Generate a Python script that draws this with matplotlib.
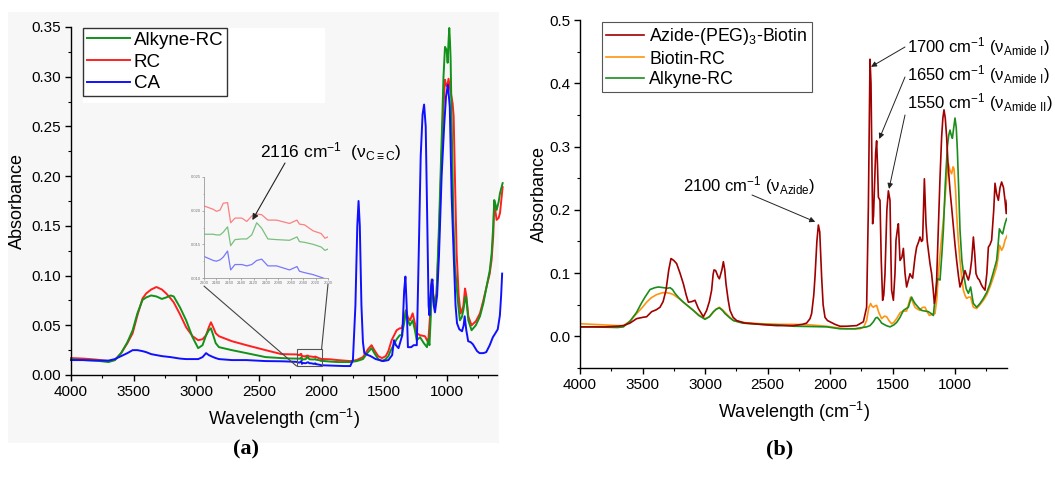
import numpy as np
import matplotlib
matplotlib.use("Agg")
import matplotlib.pyplot as plt
from matplotlib.patches import Rectangle, ConnectionPatch
from matplotlib.ticker import MultipleLocator, FormatStrFormatter

plt.rcParams['font.family'] = ['Liberation Sans', 'DejaVu Sans']
plt.rcParams['mathtext.fontset'] = 'custom'
plt.rcParams['mathtext.rm'] = 'Liberation Sans'
plt.rcParams['mathtext.it'] = 'Liberation Sans:italic'
plt.rcParams['mathtext.bf'] = 'Liberation Sans:bold'

# ---------------- Panel (a) data ----------------
# high wavenumber part (4000 -> 2250)
a_hi_x = [4000, 3900, 3800, 3700, 3650, 3600, 3550, 3508, 3470, 3429, 3400, 3360, 3318, 3275, 3240, 3205,
          3180, 3130, 3081, 3030, 2985, 2950, 2922, 2900, 2883, 2865, 2845, 2819, 2716, 2600, 2447, 2320, 2250]
rc_hi = [0.017, 0.0165, 0.0155, 0.014, 0.015, 0.022, 0.032, 0.042, 0.060, 0.077, 0.082, 0.086, 0.0885, 0.086,
         0.082, 0.077, 0.073, 0.061, 0.048, 0.039, 0.035, 0.036, 0.040, 0.048, 0.053, 0.048, 0.042, 0.039,
         0.034, 0.030, 0.025, 0.021, 0.0208]
alk_hi = [0.016, 0.015, 0.0145, 0.013, 0.015, 0.022, 0.033, 0.045, 0.062, 0.0755, 0.078, 0.080, 0.079, 0.0765,
          0.078, 0.080, 0.079, 0.068, 0.055, 0.038, 0.027, 0.030, 0.040, 0.045, 0.047, 0.040, 0.032, 0.028,
          0.025, 0.022, 0.018, 0.017, 0.0166]
ca_hi = [0.015, 0.015, 0.0145, 0.0145, 0.016, 0.019, 0.022, 0.025, 0.025, 0.024, 0.023, 0.021, 0.020, 0.019,
         0.0185, 0.018, 0.0175, 0.0165, 0.016, 0.016, 0.016, 0.018, 0.022, 0.020, 0.019, 0.018, 0.017, 0.016,
         0.015, 0.015, 0.014, 0.0138, 0.0135]

# zoomed region (2200 -> 2000), also shown in the inset
ins_x = [2200, 2185, 2180, 2174, 2169, 2162, 2157, 2150, 2139, 2131, 2123, 2115, 2107, 2097, 2083, 2062,
         2050, 2046, 2038, 2024, 2011, 2005, 2000]
rc_ins = [0.0207, 0.0202, 0.0199, 0.0201, 0.0211, 0.0212, 0.0182, 0.0189, 0.0189, 0.0184, 0.0192, 0.0195,
          0.0194, 0.0186, 0.0186, 0.0181, 0.0186, 0.0180, 0.0179, 0.0170, 0.0166, 0.0159, 0.0161]
alk_ins = [0.0165, 0.0165, 0.0164, 0.0164, 0.0168, 0.0176, 0.0148, 0.0157, 0.0158, 0.0158, 0.0164, 0.0182,
           0.0174, 0.0158, 0.0157, 0.0156, 0.0161, 0.0154, 0.0153, 0.0150, 0.0146, 0.0141, 0.0143]
ca_ins = [0.0132, 0.0126, 0.0125, 0.0127, 0.0131, 0.0140, 0.0112, 0.0120, 0.0120, 0.0118, 0.0120, 0.0126,
          0.0128, 0.0118, 0.0118, 0.0112, 0.0117, 0.0110, 0.0108, 0.0105, 0.0101, 0.0099, 0.0098]

# low wavenumber part (< 2000)
rc_lo_x = [1932, 1872, 1771, 1720, 1670, 1629, 1601, 1579, 1548, 1518, 1488, 1467, 1441, 1401, 1376, 1361,
           1341, 1327, 1311, 1294, 1273, 1255, 1241, 1214, 1175, 1159, 1149, 1134, 1121, 1103, 1082, 1063,
           1041, 1027, 1015, 1007, 997, 987, 977, 970, 954, 946, 936, 922, 906, 890, 869, 855, 845, 829,
           803, 769, 736, 709, 683, 658, 643, 630, 622, 613, 603, 587, 576, 555]
rc_lo = [0.0158, 0.015, 0.014, 0.015, 0.018, 0.026, 0.030, 0.025, 0.019, 0.017, 0.019, 0.024, 0.035, 0.045,
         0.047, 0.047, 0.055, 0.065, 0.058, 0.055, 0.062, 0.052, 0.042, 0.040, 0.039, 0.035, 0.033, 0.060,
         0.096, 0.072, 0.082, 0.140, 0.223, 0.270, 0.297, 0.292, 0.290, 0.298, 0.290, 0.285, 0.273, 0.260,
         0.200, 0.122, 0.080, 0.062, 0.069, 0.087, 0.080, 0.059, 0.050, 0.054, 0.062, 0.075, 0.089, 0.102,
         0.116, 0.140, 0.173, 0.165, 0.156, 0.158, 0.163, 0.189]
alk_lo_x = [1932, 1872, 1771, 1720, 1670, 1629, 1601, 1579, 1548, 1518, 1488, 1467, 1447, 1401, 1376, 1361,
            1341, 1327, 1311, 1295, 1273, 1255, 1241, 1214, 1184, 1159, 1149, 1139, 1128, 1121, 1103, 1083,
            1063, 1041, 1027, 1015, 1002, 994, 987, 981, 975, 970, 960, 948, 936, 922, 909, 896, 881,
            869, 855, 847, 838, 829, 803, 769, 736, 709, 683, 658, 643, 630, 622, 613, 603, 587, 576, 555]
alk_lo = [0.0135, 0.013, 0.013, 0.014, 0.016, 0.023, 0.027, 0.022, 0.016, 0.014, 0.016, 0.019, 0.025, 0.036,
          0.040, 0.040, 0.052, 0.065, 0.055, 0.050, 0.055, 0.045, 0.035, 0.038, 0.032, 0.028, 0.036, 0.030,
          0.060, 0.096, 0.070, 0.080, 0.150, 0.240, 0.300, 0.330, 0.327, 0.314, 0.335, 0.349, 0.335, 0.317,
          0.240, 0.156, 0.110, 0.089, 0.070, 0.055, 0.058, 0.065, 0.076, 0.079, 0.068, 0.055, 0.045, 0.050,
          0.059, 0.072, 0.089, 0.105, 0.122, 0.150, 0.176, 0.172, 0.166, 0.174, 0.183, 0.193]
ca_lo_x = [1932, 1821, 1771, 1750, 1730, 1715, 1705, 1695, 1682, 1670, 1659, 1629, 1609, 1568, 1508, 1467,
           1437, 1422, 1407, 1386, 1356, 1341, 1331, 1321, 1311, 1285, 1265, 1240, 1225, 1209, 1194, 1182,
           1169, 1156, 1146, 1139, 1125, 1115, 1105, 1095, 1078, 1063, 1042, 1022, 1007, 992, 977, 962,
           946, 931, 919, 901, 879, 866, 858, 845, 830, 810, 793, 759, 739, 709, 686, 658, 633, 613, 594,
           577, 567, 559]
ca_lo = [0.0095, 0.009, 0.009, 0.015, 0.070, 0.150, 0.175, 0.150, 0.070, 0.033, 0.022, 0.020, 0.019, 0.016,
         0.014, 0.015, 0.020, 0.035, 0.030, 0.027, 0.040, 0.085, 0.099, 0.070, 0.028, 0.028, 0.030, 0.030,
         0.120, 0.220, 0.262, 0.272, 0.250, 0.150, 0.070, 0.060, 0.090, 0.096, 0.070, 0.063, 0.080, 0.120,
         0.200, 0.250, 0.280, 0.292, 0.270, 0.180, 0.122, 0.070, 0.052, 0.046, 0.044, 0.050, 0.059, 0.045,
         0.034, 0.033, 0.031, 0.024, 0.022, 0.022, 0.023, 0.030, 0.038, 0.042, 0.046, 0.060, 0.080, 0.102]

# ---------------- Panel (b) data ----------------
az_x = [4000, 3900, 3800, 3700, 3653, 3600, 3547, 3500, 3467, 3427, 3390, 3360, 3335, 3312, 3290, 3272, 3250,
        3227, 3200, 3173, 3150, 3133, 3105, 3080, 3053, 3013, 2987, 2965, 2947, 2935, 2928, 2915, 2907, 2895,
        2885, 2865, 2853, 2842, 2832, 2815, 2800, 2775, 2747, 2680, 2613, 2500, 2427, 2293, 2220, 2187, 2160,
        2147, 2130, 2120, 2105, 2093, 2082, 2067, 2055, 2040, 2020, 2000, 1960, 1920, 1867, 1787, 1733, 1707,
        1693, 1680, 1672, 1667, 1659, 1652, 1645, 1635, 1627, 1620, 1613, 1600, 1590, 1579, 1570, 1560, 1545,
        1533, 1520, 1512, 1507, 1493, 1480, 1472, 1460, 1453, 1440, 1425, 1413, 1400, 1387, 1372, 1360, 1350,
        1339, 1320, 1307, 1290, 1280, 1268, 1259, 1245, 1232, 1222, 1213, 1200, 1187, 1175, 1165, 1155, 1147,
        1133, 1120, 1107, 1097, 1088, 1078, 1067, 1055, 1040, 1025, 1013, 1000, 987, 972, 960, 940, 920, 905,
        893, 880, 867, 853, 842, 832, 818, 805, 790, 779, 760, 745, 733, 720, 707, 690, 680, 667, 653, 640,
        627, 612, 600, 590, 582]
az_y = [0.015, 0.015, 0.015, 0.016, 0.017, 0.021, 0.028, 0.030, 0.031, 0.039, 0.042, 0.046, 0.055, 0.073,
        0.105, 0.123, 0.120, 0.115, 0.100, 0.083, 0.065, 0.054, 0.055, 0.057, 0.044, 0.031, 0.041, 0.055,
        0.073, 0.098, 0.105, 0.104, 0.100, 0.094, 0.091, 0.105, 0.118, 0.105, 0.083, 0.058, 0.041, 0.030,
        0.025, 0.021, 0.020, 0.018, 0.017, 0.017, 0.019, 0.021, 0.028, 0.036, 0.065, 0.094, 0.150, 0.176,
        0.165, 0.094, 0.050, 0.030, 0.025, 0.023, 0.019, 0.016, 0.016, 0.017, 0.023, 0.046, 0.205, 0.438,
        0.400, 0.320, 0.178, 0.190, 0.230, 0.290, 0.309, 0.270, 0.220, 0.215, 0.120, 0.057, 0.065, 0.099,
        0.200, 0.230, 0.215, 0.120, 0.073, 0.057, 0.100, 0.152, 0.170, 0.178, 0.120, 0.125, 0.139, 0.100,
        0.078, 0.090, 0.099, 0.095, 0.092, 0.125, 0.141, 0.150, 0.157, 0.150, 0.152, 0.249, 0.178, 0.150,
        0.136, 0.115, 0.099, 0.075, 0.052, 0.065, 0.089, 0.173, 0.250, 0.315, 0.345, 0.358, 0.345, 0.315,
        0.270, 0.231, 0.200, 0.173, 0.145, 0.120, 0.095, 0.078, 0.090, 0.104, 0.095, 0.089, 0.100, 0.120,
        0.157, 0.130, 0.099, 0.092, 0.089, 0.082, 0.078, 0.073, 0.100, 0.141, 0.145, 0.152, 0.200, 0.242,
        0.225, 0.215, 0.235, 0.244, 0.235, 0.215, 0.194, 0.215]

bio_x = [4000, 3900, 3800, 3700, 3653, 3600, 3547, 3500, 3467, 3430, 3387, 3340, 3307, 3280, 3253, 3210, 3173,
         3130, 3093, 3050, 3000, 2965, 2933, 2910, 2885, 2860, 2840, 2800, 2773, 2700, 2560, 2400, 2293, 2150,
         2027, 1920, 1867, 1760, 1730, 1707, 1690, 1675, 1665, 1653, 1640, 1627, 1610, 1587, 1565, 1547, 1525,
         1507, 1490, 1467, 1440, 1427, 1400, 1387, 1370, 1355, 1340, 1320, 1300, 1280, 1265, 1255, 1240, 1220,
         1205, 1180, 1160, 1145, 1133, 1115, 1093, 1075, 1060, 1053, 1040, 1027, 1015, 1008, 995, 987, 975,
         960, 945, 933, 920, 907, 890, 875, 862, 853, 827, 800, 773, 745, 720, 695, 667, 655, 645, 635, 627,
         612, 600, 581]
bio_y = [0.020, 0.019, 0.018, 0.017, 0.017, 0.024, 0.036, 0.046, 0.054, 0.061, 0.066, 0.069, 0.069, 0.068,
         0.066, 0.060, 0.054, 0.047, 0.041, 0.034, 0.028, 0.031, 0.038, 0.043, 0.046, 0.042, 0.038, 0.030,
         0.025, 0.022, 0.020, 0.019, 0.019, 0.018, 0.016, 0.013, 0.012, 0.012, 0.015, 0.025, 0.045, 0.052,
         0.048, 0.046, 0.048, 0.049, 0.038, 0.028, 0.032, 0.031, 0.024, 0.020, 0.022, 0.028, 0.037, 0.039,
         0.040, 0.040, 0.052, 0.062, 0.055, 0.046, 0.043, 0.041, 0.045, 0.046, 0.046, 0.038, 0.033, 0.035,
         0.036, 0.060, 0.099, 0.140, 0.184, 0.230, 0.265, 0.273, 0.262, 0.257, 0.268, 0.265, 0.230, 0.194,
         0.155, 0.120, 0.090, 0.073, 0.065, 0.060, 0.062, 0.062, 0.052, 0.046, 0.044, 0.050, 0.057, 0.066,
         0.078, 0.092, 0.110, 0.125, 0.144, 0.140, 0.136, 0.142, 0.152, 0.160]

alkb_x = [4000, 3900, 3800, 3700, 3653, 3600, 3547, 3510, 3480, 3440, 3400, 3373, 3333, 3300, 3280, 3260, 3240,
          3210, 3173, 3130, 3093, 3050, 3000, 2965, 2933, 2910, 2885, 2860, 2840, 2800, 2773, 2700, 2560, 2400,
          2293, 2150, 2027, 1920, 1800, 1707, 1680, 1653, 1635, 1621, 1600, 1587, 1550, 1520, 1490, 1467, 1440,
          1413, 1390, 1373, 1360, 1347, 1335, 1320, 1290, 1267, 1240, 1213, 1190, 1173, 1160, 1141, 1130, 1120,
          1105, 1093, 1078, 1061, 1050, 1040, 1030, 1021, 1010, 1000, 990, 981, 970, 960, 945, 928, 910, 893,
          875, 862, 853, 827, 800, 773, 745, 720, 695, 667, 655, 645, 632, 619, 600, 587]
alkb_y = [0.015, 0.015, 0.0145, 0.014, 0.015, 0.024, 0.038, 0.052, 0.062, 0.074, 0.077, 0.078, 0.077, 0.076,
          0.077, 0.074, 0.068, 0.061, 0.054, 0.047, 0.041, 0.033, 0.027, 0.031, 0.039, 0.043, 0.045, 0.041,
          0.036, 0.029, 0.025, 0.021, 0.019, 0.018, 0.016, 0.0155, 0.015, 0.012, 0.012, 0.015, 0.017, 0.023,
          0.029, 0.030, 0.025, 0.021, 0.017, 0.015, 0.018, 0.022, 0.030, 0.041, 0.044, 0.046, 0.055, 0.062,
          0.057, 0.052, 0.045, 0.041, 0.040, 0.039, 0.036, 0.033, 0.060, 0.091, 0.090, 0.089, 0.130, 0.168,
          0.240, 0.300, 0.318, 0.326, 0.318, 0.313, 0.330, 0.345, 0.330, 0.294, 0.230, 0.168, 0.120, 0.094,
          0.075, 0.068, 0.078, 0.062, 0.052, 0.046, 0.052, 0.060, 0.070, 0.083, 0.100, 0.120, 0.145, 0.170,
          0.165, 0.162, 0.178, 0.186]

labels_a = ['Alkyne-RC', 'RC', 'CA']
labels_b = ['Azide-(PEG)$_3$-Biotin', 'Biotin-RC', 'Alkyne-RC']

# ---------------- figure ----------------
W, H = 1055, 488
fig = plt.figure(figsize=(W / 100, H / 100), dpi=100)


def fx(px):
    return px / W


def fy(py):
    return 1 - py / H


# light grey background of panel (a) and white area behind its legend
fig.patches.append(Rectangle((fx(8), fy(443)), fx(499) - fx(8), fy(12) - fy(443),
                             transform=fig.transFigure, facecolor='#f7f7f7', edgecolor='none', zorder=-10))
fig.patches.append(Rectangle((fx(83), fy(103)), fx(325) - fx(83), fy(28) - fy(103),
                             transform=fig.transFigure, facecolor='white', edgecolor='none', zorder=-9))

c_green_a, c_red_a, c_blue_a = '#12921a', '#ff2020', '#1010ff'
c_az, c_bio, c_alk = '#a00000', '#ff9410', '#1c8c1c'

tick_fs = 11
lab_fs = 13

# ---- panel (a)
axa = fig.add_axes([fx(71), fy(375), fx(497) - fx(71), fy(27) - fy(375)])
axa.set_facecolor('none')
rc_x = a_hi_x + ins_x + rc_lo_x
rc_y = rc_hi + rc_ins + rc_lo
alk_x = a_hi_x + ins_x + alk_lo_x
alk_y = alk_hi + alk_ins + alk_lo
ca_x = a_hi_x + ins_x + ca_lo_x
ca_y = ca_hi + ca_ins + ca_lo
l_rc, = axa.plot(rc_x, rc_y, color=c_red_a, lw=1.4, clip_on=False)
l_alk, = axa.plot(alk_x, alk_y, color=c_green_a, lw=1.4, clip_on=False)
l_ca, = axa.plot(ca_x, ca_y, color=c_blue_a, lw=1.4, clip_on=False)
axa.set_xlim(4000, 600)
axa.set_ylim(0, 0.35)
axa.xaxis.set_minor_locator(MultipleLocator(250))
axa.yaxis.set_major_locator(MultipleLocator(0.05))
axa.yaxis.set_minor_locator(MultipleLocator(0.025))
axa.yaxis.set_major_formatter(FormatStrFormatter('%.2f'))
axa.set_xticks([4000, 3500, 3000, 2500, 2000, 1500, 1000])
axa.set_xlabel('Wavelength (cm$^{-1}$)', fontsize=lab_fs, labelpad=6)
axa.set_ylabel('Absorbance', fontsize=lab_fs, labelpad=4)
leg_a = fig.legend([l_alk, l_rc, l_ca], labels_a, loc='upper left',
                   bbox_to_anchor=(fx(83), fy(28)), bbox_transform=fig.transFigure,
                   fontsize=13.5, frameon=True, fancybox=False, edgecolor='#333333', framealpha=1,
                   handlelength=2.3, handletextpad=0.2, labelspacing=0.25, borderpad=0.2, borderaxespad=0)
leg_a.get_frame().set_linewidth(1.0)

# zoom rectangle
axa.add_patch(Rectangle((2000, 0.009), 200, 0.017, fill=False, edgecolor='#555555', lw=0.8, zorder=5))

# inset
axi = fig.add_axes([fx(204), fy(278), fx(328) - fx(204), fy(177) - fy(278)])
axi.set_facecolor('none')
axi.plot(ins_x, rc_ins, color=c_red_a, lw=0.9, alpha=0.55)
axi.plot(ins_x, alk_ins, color=c_green_a, lw=0.9, alpha=0.55)
axi.plot(ins_x, ca_ins, color=c_blue_a, lw=0.9, alpha=0.55)
axi.set_xlim(2200, 2000)
axi.set_ylim(0.010, 0.025)
axi.set_xticks(np.arange(2200, 1999, -20))
axi.set_yticks([0.010, 0.015, 0.020, 0.025])
axi.yaxis.set_major_formatter(FormatStrFormatter('%.3f'))
axi.yaxis.set_minor_locator(MultipleLocator(0.0025))
axi.tick_params(labelsize=3, colors='#777777', length=1.5, width=0.4, pad=1)
axi.tick_params(which='minor', length=1, width=0.4, colors='#777777')
for s in ['top', 'right']:
    axi.spines[s].set_visible(False)
for s in ['left', 'bottom']:
    axi.spines[s].set_color('#999999')
    axi.spines[s].set_linewidth(0.6)

con1 = ConnectionPatch(xyA=(2200, 0.009), coordsA=axa.transData, xyB=(0.0, -0.08), coordsB=axi.transAxes,
                       color='#444444', lw=0.8)
con2 = ConnectionPatch(xyA=(2000, 0.026), coordsA=axa.transData, xyB=(1.0, -0.06), coordsB=axi.transAxes,
                       color='#444444', lw=0.8)
fig.add_artist(con1)
fig.add_artist(con2)

fig.text(fx(260), fy(152), '2116 cm$^{-1}$  (ν$_{\\mathrm{C}\\equiv\\mathrm{C}}$)', fontsize=12.5,
         ha='left', va='center')
axi.annotate('', xy=(2122, 0.0186), xycoords='data', xytext=(fx(285), fy(163)),
             textcoords='figure fraction', annotation_clip=False,
             arrowprops=dict(arrowstyle='-|>', color='#222222', lw=0.8, mutation_scale=9,
                             shrinkA=0, shrinkB=0))

# ---- panel (b)
axb = fig.add_axes([fx(580), fy(368), fx(1007) - fx(580), fy(20) - fy(368)])
axb.set_facecolor('none')
l_bio, = axb.plot(bio_x, bio_y, color=c_bio, lw=1.2)
l_alkb, = axb.plot(alkb_x, alkb_y, color=c_alk, lw=1.2)
l_az, = axb.plot(az_x, az_y, color=c_az, lw=1.2)
axb.set_xlim(4000, 584)
axb.set_ylim(-0.05, 0.5)
axb.set_xticks([4000, 3500, 3000, 2500, 2000, 1500, 1000])
axb.xaxis.set_minor_locator(MultipleLocator(250))
axb.set_yticks([0.0, 0.1, 0.2, 0.3, 0.4, 0.5])
axb.yaxis.set_minor_locator(MultipleLocator(0.05))
axb.yaxis.set_major_formatter(FormatStrFormatter('%.1f'))
axb.set_xlabel('Wavelength (cm$^{-1}$)', fontsize=lab_fs, labelpad=6)
axb.set_ylabel('Absorbance', fontsize=lab_fs, labelpad=1)
leg_b = fig.legend([l_az, l_bio, l_alkb], labels_b, loc='upper left',
                   bbox_to_anchor=(fx(602), fy(22)), bbox_transform=fig.transFigure,
                   fontsize=12.8, frameon=True, fancybox=False, edgecolor='#555555', framealpha=1,
                   handlelength=2.1, handletextpad=0.3, labelspacing=0.18, borderpad=0.25, borderaxespad=0)
leg_b.get_frame().set_linewidth(0.8)

arrow_kw = dict(arrowstyle='-|>', color='#222222', lw=0.7, mutation_scale=8, shrinkA=0, shrinkB=0)
fig.text(fx(683), fy(186), '2100 cm$^{-1}$ (ν$_{\\mathrm{Azide}}$)', fontsize=12, ha='left', va='center')
axb.annotate('', xy=(2118, 0.181), xytext=(fx(752), fy(195)), textcoords='figure fraction',
             arrowprops=arrow_kw, annotation_clip=False)
amide = [('1700', 'Amide\\ I', 47, (1672, 0.426), 47),
         ('1650', 'Amide\\ I', 75, (1606, 0.312), 77),
         ('1550', 'Amide\\ II', 103, (1528, 0.233), 115)]
for num, sub, ty, tip, tail in amide:
    fig.text(fx(907), fy(ty), num + ' cm$^{-1}$ (ν$_{\\mathrm{' + sub + '}}$)', fontsize=12,
             ha='left', va='center')
    axb.annotate('', xy=tip, xytext=(fx(905), fy(tail)), textcoords='figure fraction',
                 arrowprops=arrow_kw, annotation_clip=False)

for ax in (axa, axb):
    for s in ['top', 'right']:
        ax.spines[s].set_visible(False)
    for s in ['left', 'bottom']:
        ax.spines[s].set_linewidth(1.0)
    ax.tick_params(which='major', direction='out', length=4, width=1.0, labelsize=tick_fs, pad=3)
    ax.tick_params(which='minor', direction='out', length=2.5, width=0.8)

fig.text(fx(246), fy(449), '(a)', fontsize=16, fontweight='bold', family='Liberation Serif',
         ha='center', va='center')
fig.text(fx(780), fy(449), '(b)', fontsize=16, fontweight='bold', family='Liberation Serif',
         ha='center', va='center')

fig.savefig('out.png', dpi=100)
